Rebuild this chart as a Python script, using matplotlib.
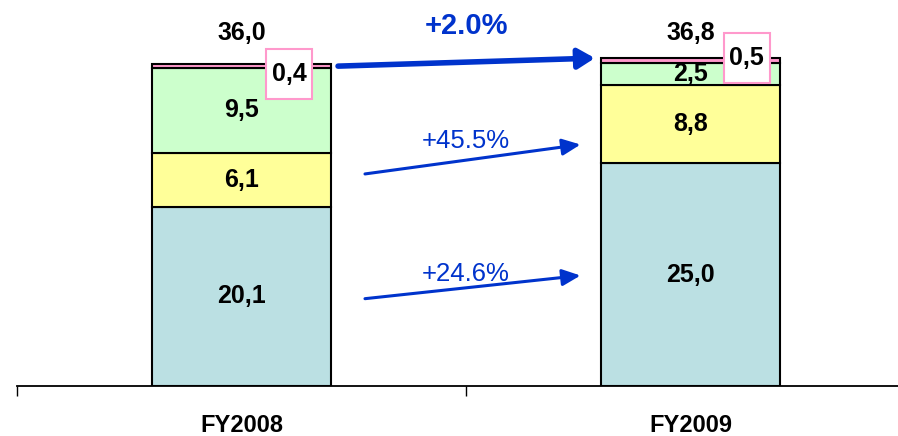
import numpy as np
import matplotlib
matplotlib.use("Agg")
import matplotlib.pyplot as plt
from matplotlib.patches import Rectangle

plt.rcParams["font.family"] = ["Liberation Sans", "DejaVu Sans"]

# data
years = ["FY2008", "FY2009"]
seg_base = [20.1, 25.0]
seg_mid = [6.1, 8.8]
seg_upper = [9.5, 2.5]
seg_top = [0.4, 0.5]
totals = [36.0, 36.8]
growth_labels = ["+24.6%", "+45.5%", "+2.0%"]

colors = ["#BBE0E3", "#FFFF99", "#CCFFCC", "#FF99CC"]
blue = "#0033CC"

fig = plt.figure(figsize=(8.98, 4.36), dpi=100)
ax = fig.add_axes([17 / 898, 50 / 436, 1.0, 40 * 8.91 / 436])

x = np.arange(len(years))
width = 0.4
bottom = np.zeros(len(years))
layers = [seg_base, seg_mid, seg_upper, seg_top]
for vals, col in zip(layers, colors):
    ax.bar(x, vals, width, bottom=bottom, color=col, edgecolor="black", linewidth=1.5, zorder=2)
    bottom += np.array(vals)

# segment labels (first three layers)
bottom = np.zeros(len(years))
for vals in layers[:3]:
    for i, v in enumerate(vals):
        ax.text(x[i], bottom[i] + v / 2, f"{v:.1f}".replace(".", ","),
                ha="center", va="center", fontsize=18, fontweight="bold", zorder=4)
    bottom += np.array(vals)

# small top segment shown in pink boxes
box_dx = [0.106, 0.125]
box_dy = [-1.0, 0.0]
bw, bh = 46 / 449, 50 / 8.91
for i, v in enumerate(seg_top):
    cx, cy = x[i] + box_dx[i], totals[i] + box_dy[i]
    ax.add_patch(Rectangle((cx - bw / 2, cy - bh / 2), bw, bh, fc="white",
                           ec="#FF99CC", lw=1.5, zorder=5))
    ax.text(cx, cy, f"{v:.1f}".replace(".", ","), ha="center", va="center",
            fontsize=18, fontweight="bold", zorder=6)

# totals
ty = max(totals) + 2.8
for i, t in enumerate(totals):
    ax.text(x[i], ty, f"{t:.1f}".replace(".", ","), ha="center", va="center",
            fontsize=18, fontweight="bold")

# growth arrows
thin = dict(arrowstyle="-|>,head_length=1.1,head_width=0.5", color=blue, lw=2.2,
            shrinkA=0, shrinkB=0)
ax.annotate("", xy=(0.755, 12.4), xytext=(0.275, 9.8), arrowprops=thin, zorder=3)
ax.annotate("", xy=(0.755, 27.1), xytext=(0.275, 23.8), arrowprops=thin, zorder=3)
thick = dict(arrowstyle="-|>,head_length=1.0,head_width=0.6", color=blue, lw=4.0,
             shrinkA=0, shrinkB=0)
ax.annotate("", xy=(0.787, totals[1]), xytext=(0.215, totals[0] - 0.1),
            arrowprops=thick, zorder=3)
ax.text(0.5, 12.6, growth_labels[0], ha="center", va="center", fontsize=18.5, color=blue)
ax.text(0.5, 27.5, growth_labels[1], ha="center", va="center", fontsize=18.5, color=blue)
ax.text(0.5, 40.4, growth_labels[2], ha="center", va="center", fontsize=21,
        fontweight="bold", color=blue, clip_on=False)

ax.set_xlim(-0.5, 1.5)
ax.set_ylim(0, 40)
for s in ["top", "right", "left"]:
    ax.spines[s].set_visible(False)
ax.spines["bottom"].set_linewidth(1.3)
ax.set_yticks([])
ax.set_xticks([-0.5, 0.5, 1.5])
ax.set_xticklabels([])
ax.tick_params(axis="x", which="major", direction="out", length=7, width=1.0)
ax.set_xticks(x, minor=True)
ax.set_xticklabels(years, minor=True, fontsize=17, fontweight="bold")
ax.tick_params(axis="x", which="minor", length=0, pad=20)
ax.patch.set_alpha(0)

fig.savefig("out.png", dpi=100)
